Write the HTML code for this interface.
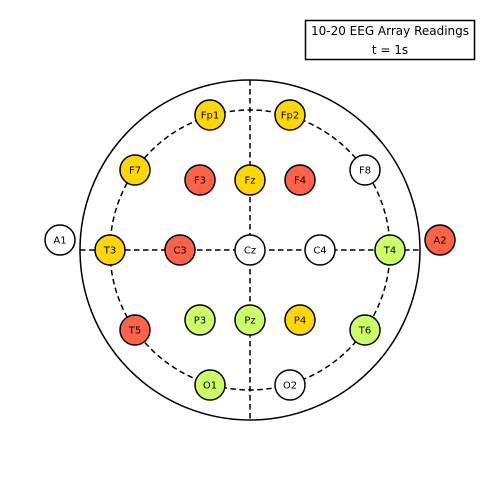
<!DOCTYPE html>
<html><head><meta charset="utf-8"><style>body{margin:0;background:#fff}svg{display:block;font-family:"DejaVu Sans","Liberation Sans",sans-serif}</style></head>
<body>
<svg width="500" height="500" viewBox="0 0 500 500">
<rect x="0" y="0" width="500" height="500" fill="#fff"/>
<g id="head">
<circle cx="250" cy="250" r="170" fill="none" stroke="#000" stroke-width="1.5"/>
<circle cx="250" cy="250" r="140" fill="none" stroke="#000" stroke-width="1.5" stroke-dasharray="5.5,3.5"/>
<line x1="250" y1="80" x2="250" y2="420" stroke="#000" stroke-width="1.5" stroke-dasharray="5.5,3.5"/>
<line x1="80" y1="250" x2="420" y2="250" stroke="#000" stroke-width="1.5" stroke-dasharray="5.5,3.5"/>
</g>
<g id="electrodes"></g>
<g>
<rect x="305.5" y="20.5" width="169" height="39" fill="#fff" stroke="#000" stroke-width="1.5"/>
<text x="390" y="35" text-anchor="middle" font-size="12">10-20 EEG Array Readings</text>
<text x="390" y="54" text-anchor="middle" font-size="12">t = 1s</text>
</g>
</svg>
<script>
const labels = ["Fp1","Fp2","F7","F3","Fz","F4","F8","A1","T3","C3","Cz","C4","T4","A2","T5","P3","Pz","P4","T6","O1","O2"];
const xs = [210,290,135,200,250,300,365,60,110,180,250,320,390,440,135,200,250,300,365,210,290];
const ys = [115,115,170,180,180,180,170,240,250,250,250,250,250,240,330,320,320,320,330,385,385];
const states = ["high","high","high","max","high","max","low","low","high","max","low","low","mid","max","max","mid","mid","high","mid","mid","low"];
const colorMap = {low:"#ffffff", mid:"#ccff66", high:"#ffd700", max:"#ff6347"};
const g = document.getElementById('electrodes');
const NS = "http://www.w3.org/2000/svg";
labels.forEach((lab,i)=>{
  const grp = document.createElementNS(NS,'g');
  
  
  const c = document.createElementNS(NS,'circle');
  c.setAttribute('cx', xs[i]); c.setAttribute('cy', ys[i]); c.setAttribute('r', 15);
  c.setAttribute('fill', colorMap[states[i]]); c.setAttribute('stroke', '#000'); c.setAttribute('stroke-width', 1.5);
  
  
  const t = document.createElementNS(NS,'text');
  t.setAttribute('x', xs[i]); t.setAttribute('y', ys[i] + 3.5);
  t.setAttribute('text-anchor', 'middle'); t.setAttribute('font-size', 10);
  t.textContent = lab;
  
  
  grp.appendChild(c); grp.appendChild(t); g.appendChild(grp);
});
</script>
</body></html>
